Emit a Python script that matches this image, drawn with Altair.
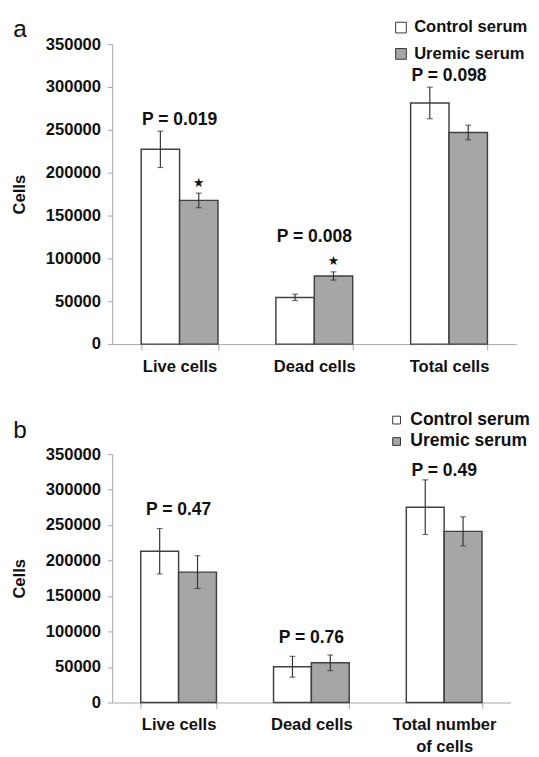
import altair as alt
import pandas as pd

groups = ["Control serum", "Uremic serum"]

# Panel a
categories_a = ["Live cells", "Dead cells", "Total cells"]
control_a = [227300, 54500, 281400]
control_a_err = [21200, 3700, 18400]
uremic_a = [167700, 79500, 246900]
uremic_a_err = [8500, 4800, 8500]
pvals_a = ["P = 0.019", "P = 0.008", "P = 0.098"]
pval_y_a = [261400, 125000, 312500]
stars_a = [188200, 96600, None]

# Panel b
categories_b = ["Live cells", "Dead cells", "Total number of cells"]
control_b = [213200, 50400, 275300]
control_b_err = [32000, 14700, 38500]
uremic_b = [183800, 56000, 241200]
uremic_b_err = [23100, 11000, 20500]
pvals_b = ["P = 0.47", "P = 0.76", "P = 0.49"]
pval_y_b = [271600, 91000, 326700]
stars_b = [None, None, None]

y_ticks = [0, 50000, 100000, 150000, 200000, 250000, 300000, 350000]

FONT = "Liberation Sans"
DARK = "#333333"
AXIS_GRAY = "#a6a6a6"


def make_panel(letter, cats, ctrl, ctrl_err, ure, ure_err, pv, pvy, stars,
               width, height, legend_x, legend_y, row_pad, leg_font, sym_size, title_offset):
    rows = []
    for i, c in enumerate(cats):
        rows.append({"cat": c, "group": groups[0], "value": ctrl[i],
                     "lo": ctrl[i] - ctrl_err[i], "hi": ctrl[i] + ctrl_err[i]})
        rows.append({"cat": c, "group": groups[1], "value": ure[i],
                     "lo": ure[i] - ure_err[i], "hi": ure[i] + ure_err[i]})
    df = pd.DataFrame(rows)
    pdf = pd.DataFrame({"cat": cats, "p": pv, "py": pvy})
    sdf = pd.DataFrame({"cat": cats, "group": [groups[1]] * len(cats), "sy": stars}).dropna()

    x = alt.X("cat:N", sort=cats,
              scale=alt.Scale(paddingInner=0.43, paddingOuter=0.215),
              axis=alt.Axis(title=None, labelAngle=0, tickBand="extent",
                            labelFontSize=17, labelFontWeight="bold", labelColor="#111",
                            labelPadding=9, tickSize=6, labelLineHeight=22,
                            domainColor=AXIS_GRAY, tickColor=AXIS_GRAY,
                            labelExpr="datum.label == 'Total number of cells' ? ['Total number', 'of cells'] : datum.label"))
    xo = alt.XOffset("group:N", sort=groups, scale=alt.Scale(paddingInner=0, paddingOuter=0))
    yscale = alt.Scale(domain=[0, 350000], nice=False)
    yaxis = alt.Axis(title="Cells", values=y_ticks, format="d",
                     grid=False, labelFontSize=17, labelFontWeight="bold", labelColor="#111",
                     labelOverlap=False, labelBound=False,
                     titleFontSize=17, titleFontWeight="bold", titleColor="#111",
                     tickSize=5, labelPadding=7, titlePadding=17,
                     domainColor=AXIS_GRAY, tickColor=AXIS_GRAY)

    def Y(field):
        return alt.Y(field, scale=yscale, axis=yaxis, title="Cells")

    bars = alt.Chart(df).mark_bar(stroke="#404040", strokeWidth=1.5).encode(
        x=x, xOffset=xo, y=Y("value:Q"),
        color=alt.Color("group:N", sort=groups,
                        scale=alt.Scale(domain=groups, range=["#ffffff", "#a6a6a6"]),
                        legend=alt.Legend(orient="none", legendX=legend_x, legendY=legend_y, title=None,
                                          symbolType="square", symbolSize=sym_size,
                                          symbolStrokeColor=DARK, symbolStrokeWidth=1,
                                          labelFontSize=leg_font, labelFontWeight="bold", labelColor="#111",
                                          rowPadding=row_pad, labelOffset=5)),
    )
    rule = alt.Chart(df).mark_rule(color=DARK, strokeWidth=1.2).encode(
        x=x, xOffset=xo, y=Y("lo:Q"), y2="hi:Q")
    cap_lo = alt.Chart(df).mark_tick(color=DARK, size=6, thickness=1.2).encode(
        x=x, xOffset=xo, y=Y("lo:Q"))
    cap_hi = alt.Chart(df).mark_tick(color=DARK, size=6, thickness=1.2).encode(
        x=x, xOffset=xo, y=Y("hi:Q"))
    ptext = alt.Chart(pdf).mark_text(fontSize=18, fontWeight="bold", color="#111").encode(
        x=x, y=Y("py:Q"), text="p:N")
    layers = [bars, rule, cap_lo, cap_hi, ptext]
    if len(sdf):
        star = alt.Chart(sdf).mark_text(text="\u2605", fontSize=13, color="#111", font="DejaVu Sans").encode(
            x=x, xOffset=xo, y=Y("sy:Q"))
        layers.append(star)
    return alt.layer(*layers).properties(
        width=width, height=height,
        title=alt.TitleParams(letter, anchor="start", frame="bounds", fontSize=25,
                              fontWeight="normal", color="#111", offset=title_offset, dx=2),
    )


panel_a = make_panel("a", categories_a, control_a, control_a_err, uremic_a, uremic_a_err,
                     pvals_a, pval_y_a, stars_a, 415, 308, 288, -25.5, 9, 17, 121, -23.5)
panel_b = make_panel("b", categories_b, control_b, control_b_err, uremic_b, uremic_b_err,
                     pvals_b, pval_y_b, stars_b, 409, 255, 283, -44, 4, 18, 64, -32)

chart = alt.vconcat(panel_a, panel_b, spacing=38).resolve_scale(
    x="independent", y="independent", color="independent", xOffset="independent"
).properties(
    padding={"left": 3, "top": 0, "right": 0, "bottom": 0}
).configure(font=FONT).configure_view(stroke=None)

chart.save("out.html", embed_options={"renderer": "svg", "actions": False})
